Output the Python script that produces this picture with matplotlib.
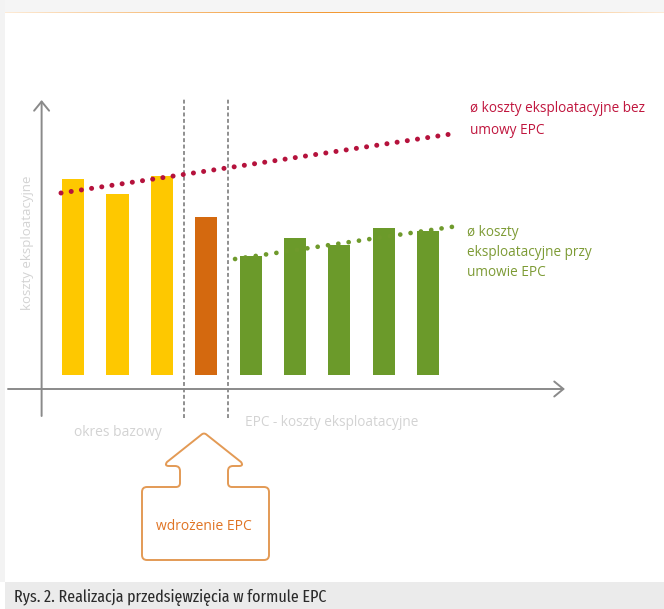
import numpy as np
import matplotlib
matplotlib.use("Agg")
import matplotlib.pyplot as plt
from matplotlib.path import Path
from matplotlib.patches import PathPatch, Rectangle

# bar heights (arbitrary cost units), one bar per period
periods = np.arange(9)
costs = [196, 181, 199, 158, 119, 137, 130, 147, 144]
bar_colors = ["#fec800", "#fec800", "#fec800", "#d4690f",
              "#6b9a2a", "#6b9a2a", "#6b9a2a", "#6b9a2a", "#6b9a2a"]

# trend lines (dotted)
red_x = [-0.27, 8.67]
red_y = [182, 242]
green_x = [3.65, 8.67]
green_y = [116, 149]

# period boundaries
bounds = [2.5, 3.5]

red_lines = ["ø koszty eksploatacyjne bez", "umowy EPC"]
red_line_y = [266, 245]
green_lines = ["ø koszty", "eksploatacyjne przy", "umowie EPC"]
green_line_y = [142, 122, 103]

font = ["Open Sans", "DejaVu Sans"]

fig = plt.figure(figsize=(6.64, 6.09), dpi=100)
fig.patch.set_facecolor("white")

# ---- decoration layer in pixel units ----
deco = fig.add_axes([0, 0, 1, 1], zorder=0)
deco.set_xlim(0, 664)
deco.set_ylim(609, 0)
deco.axis("off")

deco.add_patch(Rectangle((0, 0), 664, 12, color="#f5f5f5", lw=0))
deco.add_patch(Rectangle((0, 0), 5, 582, color="#f3f3f3", lw=0))
# orange line fading to the sides
xs = np.linspace(-1, 1, 400)
grad = np.zeros((1, 400, 4))
grad[..., 0] = 0.95
grad[..., 1] = 0.6
grad[..., 2] = 0.2
grad[..., 3] = 1 - 0.8 * np.abs(xs) ** 1.2
deco.imshow(grad, extent=(5, 664, 13.5, 11.5), aspect="auto", interpolation="bilinear")

# caption band
deco.add_patch(Rectangle((5, 582), 659, 27, color="#ebebeb", lw=0))
deco.text(14, 598, "Rys. 2. Realizacja przedsięwzięcia w formule EPC",
          family=["Fira Sans Extra Condensed", "DejaVu Sans"], fontsize=12.5,
          color="#2b2b2b", va="center", ha="left")

# callout arrow "wdrożenie EPC"
verts = [(147, 560), (142, 560), (142, 555), (142, 492), (142, 487), (147, 487),
         (176, 487), (180, 487), (180, 483), (180, 471), (180, 466), (175, 466),
         (169, 466), (164, 466), (167, 462), (201, 435), (204, 432), (207, 435),
         (241, 462), (244, 466), (239, 466), (233, 466), (228, 466), (228, 471),
         (228, 483), (228, 487), (232, 487), (264, 487), (269, 487), (269, 492),
         (269, 555), (269, 560), (264, 560), (147, 560)]
codes = [Path.MOVETO, Path.CURVE3, Path.CURVE3, Path.LINETO, Path.CURVE3, Path.CURVE3,
         Path.LINETO, Path.CURVE3, Path.CURVE3, Path.LINETO, Path.CURVE3, Path.CURVE3,
         Path.LINETO, Path.CURVE3, Path.CURVE3, Path.LINETO, Path.CURVE3, Path.CURVE3,
         Path.LINETO, Path.CURVE3, Path.CURVE3, Path.LINETO, Path.CURVE3, Path.CURVE3,
         Path.LINETO, Path.CURVE3, Path.CURVE3, Path.LINETO, Path.CURVE3, Path.CURVE3,
         Path.LINETO, Path.CURVE3, Path.CURVE3, Path.CLOSEPOLY]
deco.add_patch(PathPatch(Path(verts, codes), facecolor="white", edgecolor="#e39a55",
                         lw=1.4, joinstyle="round"))
deco.text(204, 526, "wdrożenie EPC", family=font, fontsize=10, color="#e07424",
          ha="center", va="center")

# ---- chart layer ----
ax = fig.add_axes([0, 0, 1, 1], zorder=1)
ax.patch.set_alpha(0)
ax.set_xlim(-73 / 44.4, (664 - 73) / 44.4)
ax.set_ylim(375 - 609, 375)
ax.axis("off")

ax.bar(periods, costs, width=0.5, color=bar_colors, zorder=2)

axis_c = "#8a8a8a"
arr = dict(arrowstyle="->,head_length=0.55,head_width=0.45", color=axis_c, lw=1.4,
           shrinkA=0, shrinkB=0, mutation_scale=12)
ax.annotate("", xy=(-0.707, 275), xytext=(-0.707, -41), arrowprops=arr)
ax.annotate("", xy=(11.08, -14), xytext=(-1.464, -14), arrowprops=arr)

ax.vlines(bounds, -43, 277, colors="#8f8f8f", lw=1.4, linestyles=(0, (2.0, 1.3)), zorder=1)

ax.plot(red_x, red_y, color="#b5123c", lw=3.6, linestyle=(0, (0.01, 2.05)),
        dash_capstyle="round", zorder=3)
ax.plot(green_x, green_y, color="#6f9a2c", lw=3.4, linestyle=(0, (0.01, 2.2)),
        dash_capstyle="round", zorder=3)

for txt, yy in zip(red_lines, red_line_y):
    ax.text(8.94, yy, txt, family=font, fontsize=9.8, color="#c0163e", va="center")
for txt, yy in zip(green_lines, green_line_y):
    ax.text(8.87, yy, txt, family=font, fontsize=9.8, color="#7d9b35", va="center")

light = "#d3d3d3"
ax.text(-1.036, 132, "koszty eksploatacyjne", family=font, fontsize=9.5, color=light,
        rotation=90, ha="center", va="center")
ax.text(1.01, -58, "okres bazowy", family=font, fontsize=10, color=light,
        ha="center", va="center")
ax.text(3.87, -47, "EPC - koszty eksploatacyjne", family=font, fontsize=9.8, color=light,
        ha="left", va="center")

fig.savefig("out.png", dpi=100)
